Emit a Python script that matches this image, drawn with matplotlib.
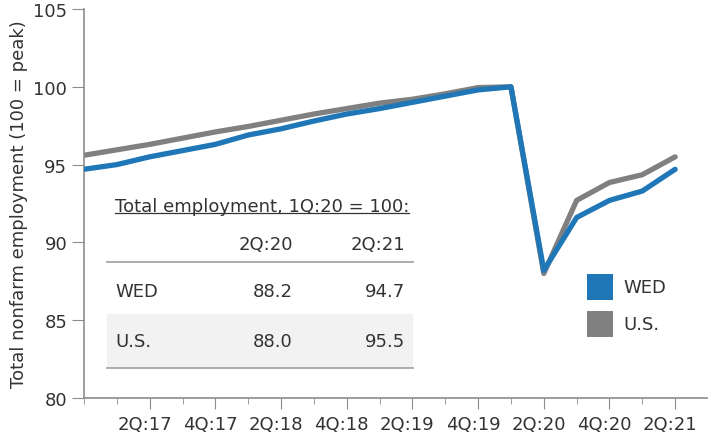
import matplotlib
matplotlib.use("Agg")
import matplotlib.pyplot as plt
import matplotlib.transforms as mtransforms
from matplotlib.patches import Rectangle
from matplotlib.lines import Line2D

quarters = ["4Q:16", "1Q:17", "2Q:17", "3Q:17", "4Q:17", "1Q:18", "2Q:18", "3Q:18",
            "4Q:18", "1Q:19", "2Q:19", "3Q:19", "4Q:19", "1Q:20", "2Q:20", "3Q:20",
            "4Q:20", "1Q:21", "2Q:21"]
wed = [94.7, 95.0, 95.5, 95.9, 96.3, 96.9, 97.3, 97.8, 98.25, 98.6, 99.0, 99.4, 99.8,
       100.0, 88.2, 91.6, 92.7, 93.3, 94.7]
us = [95.6, 95.95, 96.3, 96.7, 97.1, 97.45, 97.85, 98.25, 98.6, 98.95, 99.2, 99.55, 99.95,
      100.0, 88.0, 92.7, 93.85, 94.35, 95.5]

table_title = "Total employment, 1Q:20 = 100:"
table_cols = ["2Q:20", "2Q:21"]
table_rows = ["WED", "U.S."]
table_vals = [["88.2", "94.7"], ["88.0", "95.5"]]

BLUE = "#1f77b8"
GRAY = "#808080"
TXT = "#333333"
AX = "#8c8c8c"

plt.rcParams['font.family'] = ['DejaVu Sans']
plt.rcParams['font.size'] = 13

W, H = 708, 439
fig = plt.figure(figsize=(W / 100, H / 100), dpi=100)
ax = fig.add_axes([84 / W, 40 / H, (W - 84) / W, 389 / H])

x = list(range(len(quarters)))
ax.plot(x, us, color=GRAY, lw=3.8, solid_capstyle='round', solid_joinstyle='round', zorder=2)
ax.plot(x, wed, color=BLUE, lw=3.8, solid_capstyle='round', solid_joinstyle='round', zorder=3)

ax.set_xlim(0, 19)
ax.set_ylim(80, 105)
ax.set_yticks([80, 85, 90, 95, 100, 105])
ax.set_xticks(x[2::2])
ax.set_xticklabels(quarters[2::2], color=TXT)
ax.set_xticks(x, minor=True)
ax.tick_params(axis='x', which='major', length=8, color=AX, pad=4)
ax.tick_params(axis='x', which='minor', length=4, color=AX)
ax.tick_params(axis='y', length=9, color=AX, labelcolor=TXT, pad=3)
for lab in ax.get_xticklabels():
    lab.set_transform(lab.get_transform() + mtransforms.ScaledTranslation(-5 / 100, 0, fig.dpi_scale_trans))
for s in ['top', 'right']:
    ax.spines[s].set_visible(False)
for s in ['left', 'bottom']:
    ax.spines[s].set_color(AX)
    ax.spines[s].set_linewidth(1.2)
ax.set_ylabel("Total nonfarm employment (100 = peak)", color=TXT, labelpad=4)

def fx(px):
    return px / W

def fy(py):
    return 1 - py / H

# inset table
t = fig.text(fx(115), fy(207), table_title, color=TXT, ha='left', va='center')
fig.canvas.draw()
bb = t.get_window_extent()
fig.add_artist(Line2D([fx(bb.x0), fx(bb.x1)], [fy(214), fy(214)], color=TXT, lw=0.9))
col_right = [293, 405]
for c, name in zip(col_right, table_cols):
    fig.text(fx(c), fy(245), name, color=TXT, ha='right', va='center')
fig.add_artist(Line2D([fx(107), fx(413)], [fy(263), fy(263)], color="#a6a6a6", lw=1.3))
fig.add_artist(Rectangle((fx(107), fy(369)), fx(413) - fx(107), fy(315) - fy(369),
                         transform=fig.transFigure, facecolor="#f2f2f2", edgecolor='none', zorder=0.5))
fig.add_artist(Line2D([fx(107), fx(413)], [fy(369), fy(369)], color="#a6a6a6", lw=1.3))
row_y = [292, 342]
for ry, rname, vals in zip(row_y, table_rows, table_vals):
    fig.text(fx(115), fy(ry), rname, color=TXT, ha='left', va='center')
    for c, v in zip(col_right, vals):
        fig.text(fx(c), fy(ry), v, color=TXT, ha='right', va='center')

# legend
for yy, col, name in [(288, BLUE, "WED"), (325, GRAY, "U.S.")]:
    fig.add_artist(Rectangle((fx(587), fy(yy + 13)), fx(26), 26 / H,
                             transform=fig.transFigure, facecolor=col, edgecolor='none'))
    fig.text(fx(623), fy(yy), name, color=TXT, ha='left', va='center')

fig.savefig("out.png", dpi=100)
